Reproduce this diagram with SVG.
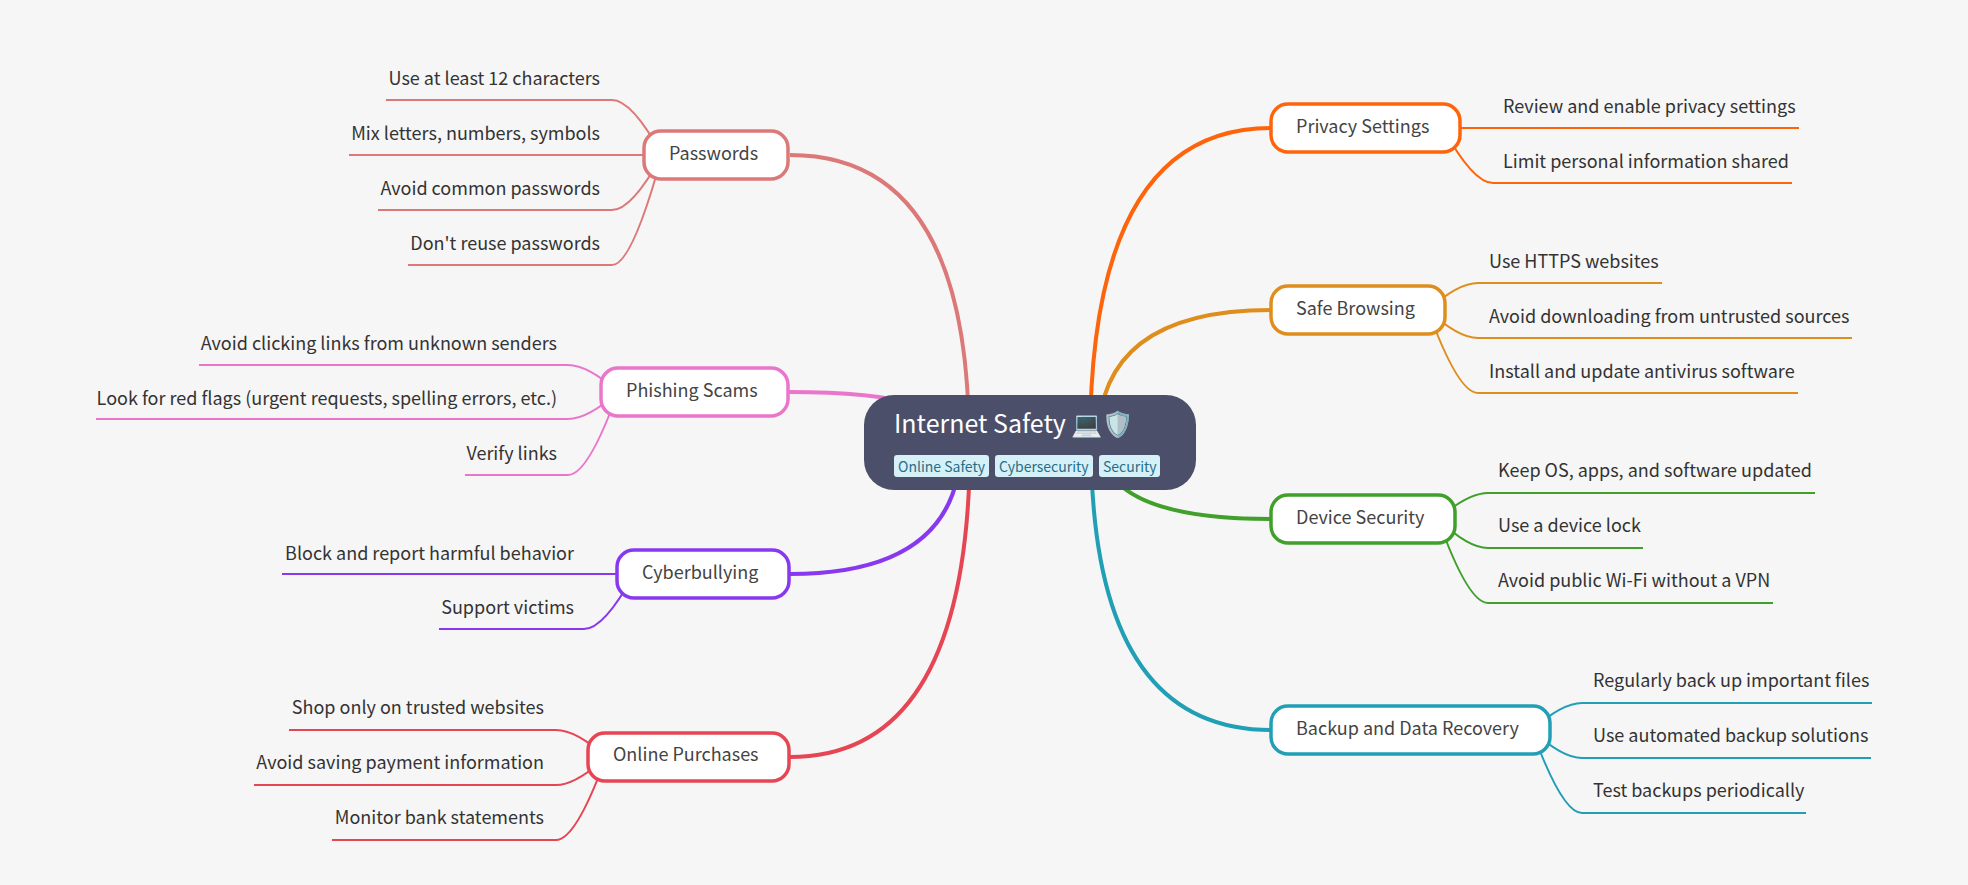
<svg xmlns="http://www.w3.org/2000/svg" width="1968" height="885" viewBox="0 0 1968 885">
<style>
text{font-family:"Noto Sans CJK SC","Noto Sans",sans-serif}
.sub{font-size:18px;fill:#333}
.l{text-anchor:end}
.nt{font-size:18px;fill:#444}
.n{fill:#fff;stroke-width:3.5}
.m{fill:none;stroke-width:4}
.s{fill:none;stroke-width:2}
.tag{fill:#d6f0f8}
.tt{font-size:14px;fill:#276f86}
</style>
<rect width="1968" height="885" fill="#f6f6f6"/>
<g id="connectors">
<g stroke="#dd7878">
<path class="m" d="M969 442 Q969 155 790 155"/>
<path class="s" d="M662 155 Q632 100 612 100 H386"/>
<path class="s" d="M662 155 H349"/>
<path class="s" d="M662 155 Q632 210 612 210 H378"/>
<path class="s" d="M662 155 Q632 265 612 265 H408"/>
</g>
<g stroke="#ea76cb">
<path class="m" d="M958 442 Q958 392 789 392"/>
<path class="s" d="M618 392 Q588 365 568 365 H199"/>
<path class="s" d="M618 392 Q588 419 568 419 H96"/>
<path class="s" d="M618 392 Q588 475 568 475 H465"/>
</g>
<g stroke="#8839ef">
<path class="m" d="M961 442 Q961 574 790 574"/>
<path class="s" d="M634 574 H282"/>
<path class="s" d="M634 574 Q604 629 584 629 H439"/>
</g>
<g stroke="#e64553">
<path class="m" d="M970 442 Q970 757 790 757"/>
<path class="s" d="M606 757 Q576 730 556 730 H289"/>
<path class="s" d="M606 757 Q576 785 556 785 H254"/>
<path class="s" d="M606 757 Q576 840 556 840 H332"/>
</g>
<g stroke="#fe640b">
<path class="m" d="M1090 442 Q1090 128 1271 128"/>
<path class="s" d="M1443 128 H1799"/>
<path class="s" d="M1443 128 Q1473 183 1493 183 H1792"/>
</g>
<g stroke="#df8e1d">
<path class="m" d="M1098 442 Q1098 310 1271 310"/>
<path class="s" d="M1428 310 Q1458 283 1478 283 H1662"/>
<path class="s" d="M1428 310 Q1458 338 1478 338 H1852"/>
<path class="s" d="M1428 310 Q1458 393 1478 393 H1798"/>
</g>
<g stroke="#40a02b">
<path class="m" d="M1101 442 Q1101 519 1271 519"/>
<path class="s" d="M1438 519 Q1468 493 1488 493 H1815"/>
<path class="s" d="M1438 519 Q1468 548 1488 548 H1643"/>
<path class="s" d="M1438 519 Q1468 603 1488 603 H1773"/>
</g>
<g stroke="#209fb5">
<path class="m" d="M1091 442 Q1091 730 1271 730"/>
<path class="s" d="M1532 730 Q1562 703 1582 703 H1872"/>
<path class="s" d="M1532 730 Q1562 758 1582 758 H1871"/>
<path class="s" d="M1532 730 Q1562 813 1582 813 H1806"/>
</g>
</g>
<g id="root">
<rect x="864" y="395" width="332" height="95" rx="30" fill="#4c4f69"/>
<text x="894" y="433" font-size="25" fill="#fff">Internet Safety 💻🛡️</text>
<rect class="tag" x="894" y="455" width="95" height="22" rx="3"/><text class="tt" x="898" y="471.5">Online Safety</text>
<rect class="tag" x="995" y="455" width="98" height="22" rx="3"/><text class="tt" x="999" y="471.5">Cybersecurity</text>
<rect class="tag" x="1099" y="455" width="61" height="22" rx="3"/><text class="tt" x="1103" y="471.5">Security</text>
</g>
<g id="passwords"><rect class="n" stroke="#dd7878" x="644" y="131" width="144" height="48" rx="17"/><text class="nt" x="669" y="160">Passwords</text></g>
<g id="phishing"><rect class="n" stroke="#ea76cb" x="601" y="368" width="187" height="48" rx="17"/><text class="nt" x="626" y="396.5">Phishing Scams</text></g>
<g id="cyberbullying"><rect class="n" stroke="#8839ef" x="617" y="550" width="172" height="48" rx="17"/><text class="nt" x="642" y="579">Cyberbullying</text></g>
<g id="purchases"><rect class="n" stroke="#e64553" x="588" y="733" width="201" height="48" rx="17"/><text class="nt" x="613" y="761">Online Purchases</text></g>
<g id="privacy"><rect class="n" stroke="#fe640b" x="1271" y="104" width="189" height="48" rx="17"/><text class="nt" x="1296" y="132.5">Privacy Settings</text></g>
<g id="browsing"><rect class="n" stroke="#df8e1d" x="1271" y="286" width="174" height="48" rx="17"/><text class="nt" x="1296" y="314.5">Safe Browsing</text></g>
<g id="device"><rect class="n" stroke="#40a02b" x="1271" y="495" width="184" height="48" rx="17"/><text class="nt" x="1296" y="524">Device Security</text></g>
<g id="backup"><rect class="n" stroke="#209fb5" x="1271" y="706" width="279" height="48" rx="17"/><text class="nt" x="1296" y="734.5">Backup and Data Recovery</text></g>
<g id="passwords-items">
<text class="sub l" x="600" y="84.5">Use at least 12 characters</text>
<text class="sub l" x="600" y="139.5">Mix letters, numbers, symbols</text>
<text class="sub l" x="600" y="194.5">Avoid common passwords</text>
<text class="sub l" x="600" y="249.5">Don't reuse passwords</text>
</g>
<g id="phishing-items">
<text class="sub l" x="557" y="349.5">Avoid clicking links from unknown senders</text>
<text class="sub l" x="557" y="404.5">Look for red flags (urgent requests, spelling errors, etc.)</text>
<text class="sub l" x="557" y="459.5">Verify links</text>
</g>
<g id="cyberbullying-items">
<text class="sub l" x="574" y="559.5">Block and report harmful behavior</text>
<text class="sub l" x="574" y="614">Support victims</text>
</g>
<g id="purchases-items">
<text class="sub l" x="544" y="714">Shop only on trusted websites</text>
<text class="sub l" x="544" y="769">Avoid saving payment information</text>
<text class="sub l" x="544" y="824">Monitor bank statements</text>
</g>
<g id="privacy-items">
<text class="sub" x="1503" y="112.5">Review and enable privacy settings</text>
<text class="sub" x="1503" y="167.5">Limit personal information shared</text>
</g>
<g id="browsing-items">
<text class="sub" x="1489" y="267.5">Use HTTPS websites</text>
<text class="sub" x="1489" y="322.5">Avoid downloading from untrusted sources</text>
<text class="sub" x="1489" y="377.5">Install and update antivirus software</text>
</g>
<g id="device-items">
<text class="sub" x="1498" y="477">Keep OS, apps, and software updated</text>
<text class="sub" x="1498" y="532">Use a device lock</text>
<text class="sub" x="1498" y="587">Avoid public Wi-Fi without a VPN</text>
</g>
<g id="backup-items">
<text class="sub" x="1593" y="687">Regularly back up important files</text>
<text class="sub" x="1593" y="742">Use automated backup solutions</text>
<text class="sub" x="1593" y="797">Test backups periodically</text>
</g>
</svg>
